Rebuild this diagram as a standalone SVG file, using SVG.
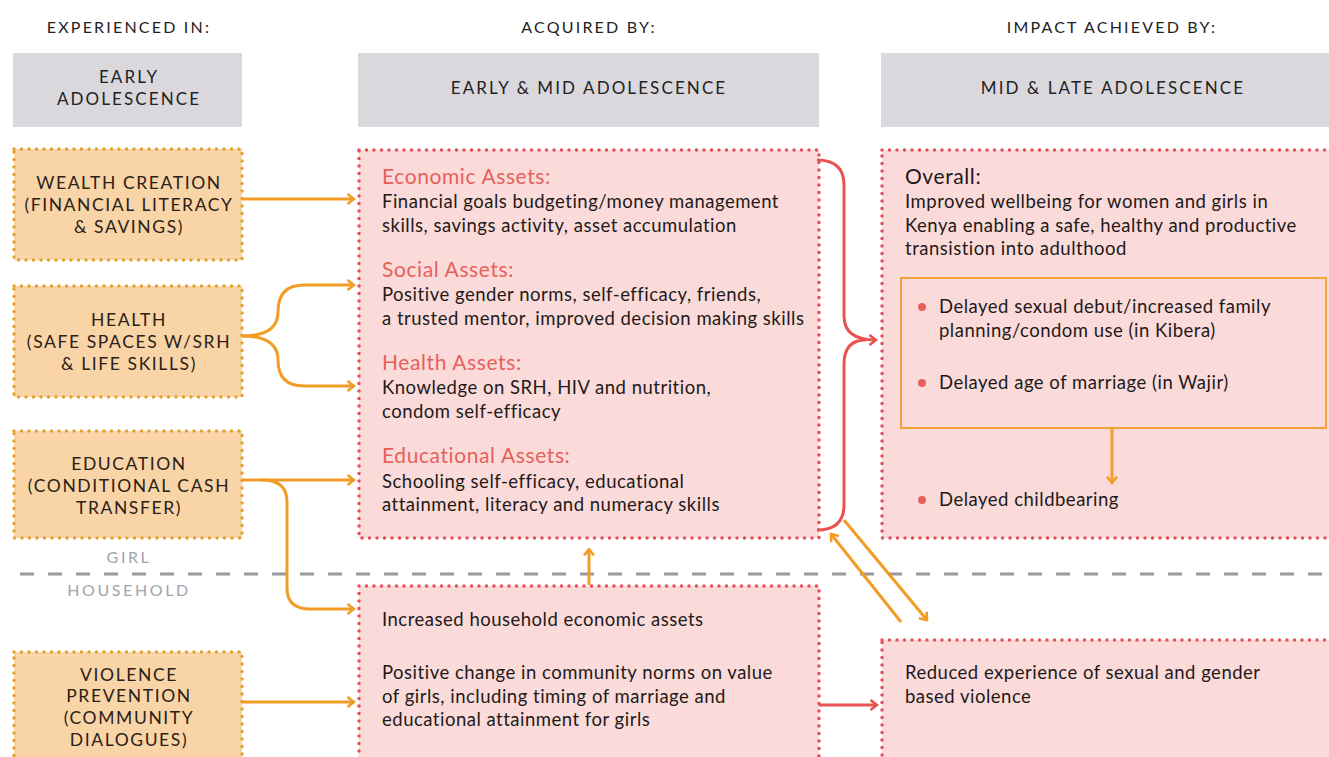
<svg xmlns="http://www.w3.org/2000/svg" width="1329" height="757" viewBox="0 0 1329 757">
<style>
.hd{font-family:Lato,"Liberation Sans",sans-serif;font-size:16px;letter-spacing:2.2px;fill:#222;text-anchor:middle}
.gh{font-family:Lato,"Liberation Sans",sans-serif;font-size:17px;letter-spacing:2.1px;fill:#222;text-anchor:middle}
.ob{font-family:Lato,"Liberation Sans",sans-serif;font-size:17.5px;letter-spacing:1.6px;fill:#2a2118;text-anchor:middle}
.gl{font-family:Lato,"Liberation Sans",sans-serif;font-size:16px;letter-spacing:2.6px;fill:#a3a3aa;text-anchor:middle}
.t{font-family:Lato,"Liberation Sans",sans-serif;font-size:18.5px;letter-spacing:0.5px;fill:#1f1a1a}
.rt{font-family:Lato,"Liberation Sans",sans-serif;font-size:21px;letter-spacing:0.6px;fill:#e8605a}
.ov{font-family:Lato,"Liberation Sans",sans-serif;font-size:21px;letter-spacing:0.6px;fill:#1f1a1a}
.grey{fill:#dad8dd}
.obox{fill:#f9d4a6;stroke:#e3a22e;stroke-width:3.5;stroke-dasharray:0 7.5;stroke-linecap:round}
.pbox{fill:#fadbd9;stroke:#e84d5a;stroke-width:3.5;stroke-dasharray:0 7.5;stroke-linecap:round}
.oc{fill:none;stroke:#f19c24;stroke-width:3}
.rc{fill:none;stroke:#e8524f;stroke-width:3}
</style>
<defs>
<marker id="ao" viewBox="0 0 10 12" refX="8.5" refY="6" markerWidth="10" markerHeight="12" markerUnits="userSpaceOnUse" orient="auto"><path d="M2,1 L8.5,6 L2,11" fill="none" stroke="#f19c24" stroke-width="2.6"/></marker>
<marker id="ar" viewBox="0 0 10 12" refX="8.5" refY="6" markerWidth="10" markerHeight="12" markerUnits="userSpaceOnUse" orient="auto"><path d="M2,1 L8.5,6 L2,11" fill="none" stroke="#e8524f" stroke-width="2.6"/></marker>
</defs>
<rect width="1329" height="757" fill="#fff"/>

<g id="headers">
<text class="hd" x="129" y="33">EXPERIENCED IN:</text>
<text class="hd" x="589" y="33">ACQUIRED BY:</text>
<text class="hd" x="1112" y="33">IMPACT ACHIEVED BY:</text>
</g>

<g id="stage-early">
<rect class="grey" x="13" y="53" width="229" height="74"/>
<text class="gh" x="129" y="83">EARLY</text>
<text class="gh" x="129" y="105">ADOLESCENCE</text>
</g>
<g id="stage-earlymid">
<rect class="grey" x="358" y="53" width="461" height="74"/>
<text class="gh" x="589" y="94">EARLY &amp; MID ADOLESCENCE</text>
</g>
<g id="stage-midlate">
<rect class="grey" x="881" y="53" width="448" height="74"/>
<text class="gh" x="1113" y="94">MID &amp; LATE ADOLESCENCE</text>
</g>

<g id="wealth">
<rect class="obox" x="14" y="149" width="228" height="111"/>
<text class="ob" x="129" y="189">WEALTH CREATION</text>
<text class="ob" x="129" y="211">(FINANCIAL LITERACY</text>
<text class="ob" x="129" y="233">&amp; SAVINGS)</text>
</g>
<g id="health">
<rect class="obox" x="14" y="286" width="228" height="111"/>
<text class="ob" x="129" y="326">HEALTH</text>
<text class="ob" x="129" y="348">(SAFE SPACES W/SRH</text>
<text class="ob" x="129" y="370">&amp; LIFE SKILLS)</text>
</g>
<g id="education">
<rect class="obox" x="14" y="431" width="228" height="107"/>
<text class="ob" x="129" y="470">EDUCATION</text>
<text class="ob" x="129" y="492">(CONDITIONAL CASH</text>
<text class="ob" x="129" y="514">TRANSFER)</text>
</g>
<g id="violence">
<rect class="obox" x="14" y="652" width="228" height="120"/>
<text class="ob" x="129" y="681">VIOLENCE</text>
<text class="ob" x="129" y="702">PREVENTION</text>
<text class="ob" x="129" y="724">(COMMUNITY</text>
<text class="ob" x="129" y="746">DIALOGUES)</text>
</g>

<g id="divider">
<line x1="20" y1="574" x2="1329" y2="574" stroke="#9a9a9e" stroke-width="3" stroke-dasharray="14 14"/>
<text class="gl" x="129" y="563">GIRL</text>
<text class="gl" x="129" y="596">HOUSEHOLD</text>
</g>

<g id="girl-assets">
<rect class="pbox" x="359" y="150" width="460" height="388"/>
<text class="rt" x="382" y="184">Economic Assets:</text>
<text class="t" x="382" y="208">Financial goals budgeting/money management</text>
<text class="t" x="382" y="232">skills, savings activity, asset accumulation</text>
<text class="rt" x="382" y="277">Social Assets:</text>
<text class="t" x="382" y="301">Positive gender norms, self-efficacy, friends,</text>
<text class="t" x="382" y="325">a trusted mentor, improved decision making skills</text>
<text class="rt" x="382" y="370">Health Assets:</text>
<text class="t" x="382" y="394">Knowledge on SRH, HIV and nutrition,</text>
<text class="t" x="382" y="418">condom self-efficacy</text>
<text class="rt" x="382" y="463">Educational Assets:</text>
<text class="t" x="382" y="488">Schooling self-efficacy, educational</text>
<text class="t" x="382" y="511">attainment, literacy and numeracy skills</text>
</g>

<g id="household-assets">
<rect class="pbox" x="359" y="586" width="460" height="200"/>
<text class="t" x="382" y="626">Increased household economic assets</text>
<text class="t" x="382" y="679">Positive change in community norms on value</text>
<text class="t" x="382" y="703">of girls, including timing of marriage and</text>
<text class="t" x="382" y="726">educational attainment for girls</text>
</g>

<g id="impact-girl">
<rect class="pbox" x="882" y="150" width="470" height="388"/>
<text class="ov" x="905" y="184">Overall:</text>
<text class="t" x="905" y="208">Improved wellbeing for women and girls in</text>
<text class="t" x="905" y="232">Kenya enabling a safe, healthy and productive</text>
<text class="t" x="905" y="255">transistion into adulthood</text>
<rect x="901" y="278" width="425" height="150" fill="none" stroke="#f0a43a" stroke-width="2"/>
<circle cx="922" cy="307" r="4" fill="#e8605a"/>
<text class="t" x="939" y="313">Delayed sexual debut/increased family</text>
<text class="t" x="939" y="337">planning/condom use (in Kibera)</text>
<circle cx="922" cy="383" r="4" fill="#e8605a"/>
<text class="t" x="939" y="389">Delayed age of marriage (in Wajir)</text>
<circle cx="922" cy="500" r="4" fill="#e8605a"/>
<text class="t" x="939" y="506">Delayed childbearing</text>
</g>

<g id="impact-household">
<rect class="pbox" x="882" y="640" width="470" height="150"/>
<text class="t" x="905" y="679">Reduced experience of sexual and gender</text>
<text class="t" x="905" y="703">based violence</text>
</g>

<g id="connectors">
<path class="oc" d="M242,199 H354" marker-end="url(#ao)"/>
<path class="oc" d="M242,336 Q278,336 278,312 Q278,285 304,285 H354" marker-end="url(#ao)"/>
<path class="oc" d="M242,336 Q278,336 278,360 Q278,386 304,386 H354" marker-end="url(#ao)"/>
<path class="oc" d="M242,480 H354" marker-end="url(#ao)"/>
<path class="oc" d="M262,480 Q287,480 287,502 V588 Q287,609 310,609 H354" marker-end="url(#ao)"/>
<path class="oc" d="M242,702 H354" marker-end="url(#ao)"/>
<path class="oc" d="M589,585 V549" marker-end="url(#ao)"/>
<path class="rc" d="M817,160 Q844,160 844,185 V316 Q844,340 876,340" marker-end="url(#ar)"/>
<path class="rc" d="M817,530 Q844,530 844,505 V364 Q844,340 866,340"/>
<path class="oc" d="M844,520 L927,620" marker-end="url(#ao)"/>
<path class="oc" d="M901,622 L831,534" marker-end="url(#ao)"/>
<path class="oc" d="M1112,428 V483" marker-end="url(#ao)"/>
<path class="rc" d="M819,705 H877" marker-end="url(#ar)"/>
</g>
</svg>
